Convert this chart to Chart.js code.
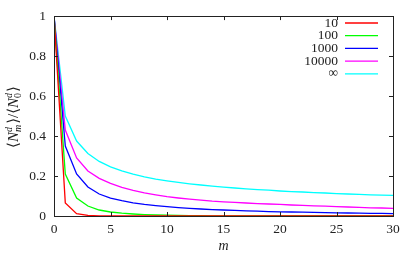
<!DOCTYPE html>
<html>
<head>
<meta charset="utf-8">
<script src="https://cdn.jsdelivr.net/npm/chart.js@4.4.1/dist/chart.umd.min.js"></script>
<style>
  html, body { margin: 0; padding: 0; background: #fff; }
  #wrap { width: 416px; height: 256px; }
</style>
</head>
<body>
<div id="wrap"><canvas id="chart" width="416" height="256"></canvas></div>
<script>
// m values along the x axis
let mValues = [0, 1, 2, 3, 4, 5, 6, 7, 8, 9, 10, 11, 12, 13, 14, 15, 16, 17, 18, 19, 20,
               21, 22, 23, 24, 25, 26, 27, 28, 29, 30];

let seriesLabels = ["10", "100", "1000", "10000", "\u221E"];
let seriesColors = ["#ff0000", "#00ff00", "#0000ff", "#ff00ff", "#00ffff"];

let n10 = [1, 0.065, 0.012, 0.003, 0.001, 0, 0, 0, 0, 0, 0, 0, 0, 0, 0, 0, 0, 0, 0, 0, 0,
           0, 0, 0, 0, 0, 0, 0, 0, 0, 0];
let n100 = [1, 0.21, 0.09, 0.05, 0.03, 0.02, 0.014, 0.01, 0.007, 0.005, 0.004, 0.003, 0.002, 0.002, 0.001, 0.001,
            0.001, 0.001, 0.001, 0.001, 0.001, 0, 0, 0, 0, 0, 0, 0, 0, 0, 0];
let n1000 = [1, 0.35, 0.21, 0.145, 0.11, 0.09, 0.077, 0.066, 0.058, 0.052, 0.047, 0.042, 0.038, 0.035, 0.032, 0.03,
             0.028, 0.026, 0.024, 0.022, 0.021, 0.02, 0.019, 0.018, 0.017, 0.016, 0.015, 0.014, 0.013, 0.013, 0.012];
let n10000 = [1, 0.43, 0.29, 0.225, 0.188, 0.163, 0.143, 0.128, 0.116, 0.106, 0.097, 0.09, 0.084, 0.079, 0.074, 0.071,
              0.068, 0.065, 0.062, 0.06, 0.058, 0.055, 0.053, 0.051, 0.049, 0.047, 0.045, 0.043, 0.041, 0.04, 0.038];
let nInf = [1, 0.5, 0.375, 0.3125, 0.273, 0.246, 0.226, 0.209, 0.196, 0.185, 0.176, 0.168, 0.161, 0.155, 0.149, 0.144,
            0.14, 0.136, 0.132, 0.129, 0.125, 0.122, 0.12, 0.117, 0.115, 0.112, 0.11, 0.108, 0.106, 0.104, 0.103];

let xTicks = [0, 5, 10, 15, 20, 25, 30];
let yTicks = [0, 0.2, 0.4, 0.6, 0.8, 1];

const SERIF = "'Liberation Serif', 'DejaVu Serif', serif";

function makeSet(i, values) {
    return {
        label: seriesLabels[i],
        data: mValues.map((m, k) => ({ x: m, y: values[k] })),
        borderColor: seriesColors[i],
        borderWidth: 1.3,
        pointRadius: 0,
        fill: false,
        tension: 0
    };
}

// frame, inward ticks, axis titles and legend, gnuplot style
const decorations = {
    id: "decorations",
    afterDatasetsDraw(chart) {
        let ctx = chart.ctx;
        let a = chart.chartArea;
        let xs = chart.scales.x, ys = chart.scales.y;
        ctx.save();
        ctx.strokeStyle = "#222";
        ctx.lineWidth = 1;
        ctx.beginPath();
        xTicks.forEach(v => {
            let px = Math.round(xs.getPixelForValue(v)) + 0.5;
            ctx.moveTo(px, a.bottom); ctx.lineTo(px, a.bottom - 4);
            ctx.moveTo(px, a.top); ctx.lineTo(px, a.top + 4);
        });
        yTicks.forEach(v => {
            let py = Math.round(ys.getPixelForValue(v)) + 0.5;
            ctx.moveTo(a.left, py); ctx.lineTo(a.left + 4, py);
            ctx.moveTo(a.right, py); ctx.lineTo(a.right - 4, py);
        });
        ctx.stroke();
        ctx.strokeRect(Math.round(a.left) + 0.5, Math.round(a.top) + 0.5,
                       Math.round(a.right - a.left), Math.round(a.bottom - a.top));

        // legend
        ctx.font = "13.5px " + SERIF;
        ctx.textAlign = "right";
        ctx.textBaseline = "middle";
        seriesLabels.forEach((lab, i) => {
            let y = 23 + i * 12.7;
            ctx.fillStyle = "#222";
            ctx.fillText(lab, 338, y);
            ctx.strokeStyle = seriesColors[i];
            ctx.lineWidth = 1.3;
            ctx.beginPath();
            ctx.moveTo(345, y); ctx.lineTo(378, y);
            ctx.stroke();
        });

        // x title
        ctx.fillStyle = "#222";
        ctx.textAlign = "center";
        ctx.textBaseline = "alphabetic";
        ctx.font = "italic 14px " + SERIF;
        ctx.fillText("m", (a.left + a.right) / 2, 250);

        // y title: <N_m^d>/<N_0^d>
        let big = "15px " + SERIF, bigI = "italic 15px " + SERIF;
        let small = "10px " + SERIF, smallI = "italic 10px " + SERIF;
        let parts = [
            { t: "\u27E8", f: big },
            { t: "N", f: bigI },
            { sup: "d", sub: "m", fs: smallI, fb: smallI },
            { t: "\u27E9/\u27E8", f: big },
            { t: "N", f: bigI },
            { sup: "d", sub: "0", fs: smallI, fb: small },
            { t: "\u27E9", f: big }
        ];
        let widths = parts.map(p => {
            if (p.t) { ctx.font = p.f; return ctx.measureText(p.t).width; }
            ctx.font = p.fs; let w1 = ctx.measureText(p.sup).width;
            ctx.font = p.fb; let w2 = ctx.measureText(p.sub).width;
            return Math.max(w1, w2) + 1;
        });
        let total = widths.reduce((s, w) => s + w, 0);
        ctx.translate(18, 117);
        ctx.rotate(-Math.PI / 2);
        ctx.textAlign = "left";
        let x = -total / 2;
        parts.forEach((p, i) => {
            if (p.t) {
                ctx.font = p.f; ctx.fillText(p.t, x, 0);
            } else {
                ctx.font = p.fs; ctx.fillText(p.sup, x, -6);
                ctx.font = p.fb; ctx.fillText(p.sub, x, 3);
            }
            x += widths[i];
        });
        ctx.restore();
    }
};

new Chart(document.getElementById("chart").getContext("2d"), {
    type: "line",
    data: {
        datasets: [makeSet(0, n10), makeSet(1, n100), makeSet(2, n1000), makeSet(3, n10000), makeSet(4, nInf)]
    },
    options: {
        responsive: false,
        animation: false,
        layout: { padding: { left: 0, right: 23, top: 15, bottom: 0 } },
        plugins: {
            legend: { display: false },
            tooltip: { enabled: false }
        },
        scales: {
            x: {
                type: "linear",
                min: 0, max: 30,
                grid: { display: false, drawTicks: false },
                border: { display: false },
                afterFit: s => { s.height = 40; },
                afterBuildTicks: s => { s.ticks = xTicks.map(v => ({ value: v })); },
                ticks: {
                    padding: 5,
                    color: "#222",
                    font: { family: SERIF, size: 13.5 },
                    maxRotation: 0,
                    callback: v => String(v)
                }
            },
            y: {
                type: "linear",
                min: 0, max: 1,
                grid: { display: false, drawTicks: false },
                border: { display: false },
                afterFit: s => { s.width = 54; },
                afterBuildTicks: s => { s.ticks = yTicks.map(v => ({ value: v })); },
                ticks: {
                    padding: 8,
                    color: "#222",
                    font: { family: SERIF, size: 13.5 },
                    callback: v => String(v)
                }
            }
        }
    },
    plugins: [decorations]
});
</script>
</body>
</html>
